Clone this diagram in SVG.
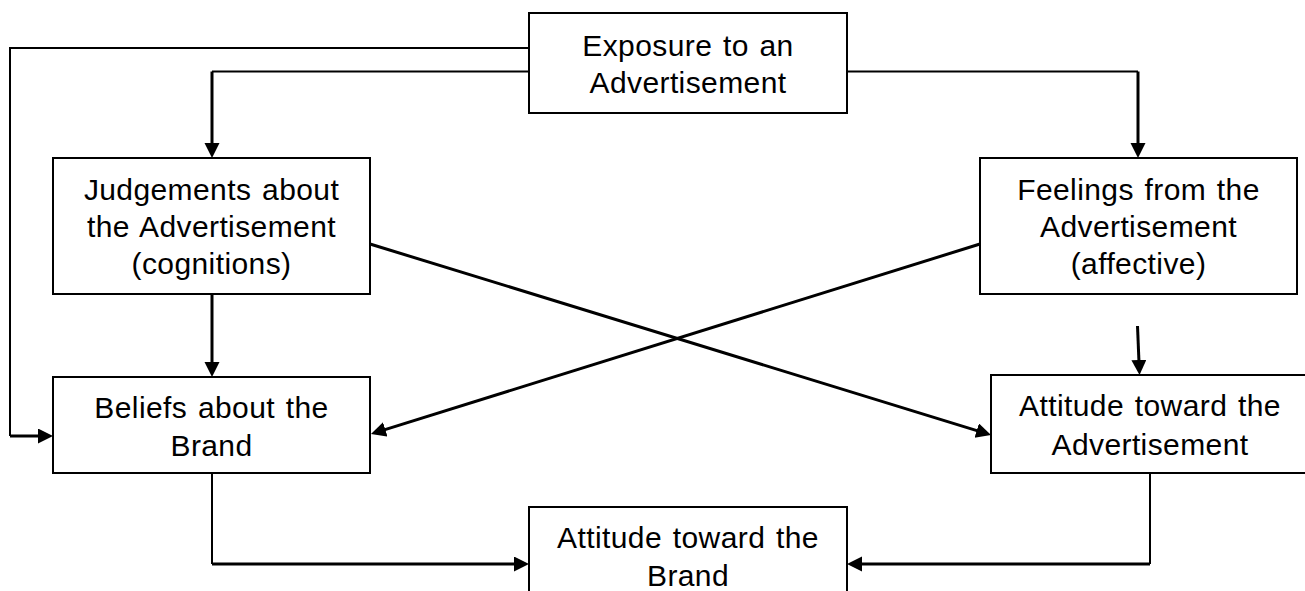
<svg xmlns="http://www.w3.org/2000/svg" width="1305" height="591" viewBox="0 0 1305 591">
<style>
.box{fill:#fff;stroke:#000;stroke-width:2}
.t{font-family:"Liberation Sans",Arial,sans-serif;font-size:30px;letter-spacing:0.4px;word-spacing:2px;fill:#000;text-anchor:middle}
.thin{fill:none;stroke:#000;stroke-width:2}
.thick{fill:none;stroke:#000;stroke-width:3;marker-end:url(#ah)}
</style>
<defs>
<marker id="ah" markerUnits="userSpaceOnUse" markerWidth="16" markerHeight="16" refX="7" refY="7.5" orient="auto">
<path d="M0,0 L15,7.5 L0,15 z" fill="#000"/>
</marker>
</defs>
<rect width="1305" height="591" fill="#fff"/>
<g id="connectors">
<path class="thin" d="M529,48 H10 V436"/>
<path class="thick" d="M10,436 H45"/>
<path class="thin" d="M529,71.5 H212"/>
<path class="thick" d="M212,71.5 V150"/>
<path class="thin" d="M847,71.5 H1138"/>
<path class="thick" d="M1138,71.5 V150"/>
<path class="thick" d="M212,294 V369"/>
<path class="thick" d="M1137.5,326 L1139.2,367"/>
<path class="thick" d="M370,244 L983.4,432.6"/>
<path class="thick" d="M980,244 L378.6,431.6"/>
<path class="thin" d="M212,473 V564"/>
<path class="thick" d="M212,564 H521"/>
<path class="thin" d="M1150,473 V564"/>
<path class="thick" d="M1150,564 H855"/>
</g>
<g id="exposure">
<rect class="box" x="529" y="13" width="318" height="100"/>
<text class="t" x="688" y="55.5">Exposure to an</text>
<text class="t" x="688" y="93">Advertisement</text>
</g>
<g id="judgements">
<rect class="box" x="53" y="158" width="317" height="136"/>
<text class="t" x="211.5" y="200">Judgements about</text>
<text class="t" x="211.5" y="237">the Advertisement</text>
<text class="t" x="211.5" y="274">(cognitions)</text>
</g>
<g id="feelings">
<rect class="box" x="980" y="158" width="317" height="136"/>
<text class="t" x="1138.5" y="200">Feelings from the</text>
<text class="t" x="1138.5" y="237">Advertisement</text>
<text class="t" x="1138.5" y="274">(affective)</text>
</g>
<g id="beliefs">
<rect class="box" x="53" y="377" width="317" height="96"/>
<text class="t" x="211.5" y="418">Beliefs about the</text>
<text class="t" x="211.5" y="456">Brand</text>
</g>
<g id="attitude-ad">
<rect class="box" x="991" y="375" width="318" height="98"/>
<text class="t" x="1150" y="416">Attitude toward the</text>
<text class="t" x="1150" y="455">Advertisement</text>
</g>
<g id="attitude-brand">
<rect class="box" x="529" y="507" width="318" height="100"/>
<text class="t" x="688" y="548">Attitude toward the</text>
<text class="t" x="688" y="586">Brand</text>
</g>
</svg>
